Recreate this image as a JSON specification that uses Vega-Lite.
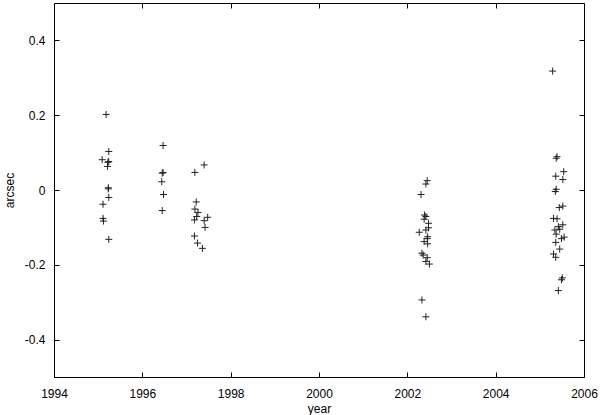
{
  "$schema": "https://vega.github.io/schema/vega-lite/v6.json",
  "width": 530,
  "height": 374,
  "autosize": {"type": "none"},
  "padding": {"left": 54, "top": 3, "right": 16, "bottom": 38},
  "background": "white",
  "config": {
    "view": {"stroke": "#000", "strokeWidth": 1},
    "font": "Liberation Sans",
    "axis": {"grid": false, "domain": false, "labelFont": "Liberation Sans", "titleFont": "Liberation Sans", "labelFontSize": 12, "titleFontSize": 12, "titleFontWeight": "normal", "labelColor": "#000", "titleColor": "#000", "tickColor": "#000"}
  },
  "data": {"values": [
    {"year": 1995.18, "arcsec": 0.202},
    {"year": 1995.24, "arcsec": 0.103},
    {"year": 1995.09, "arcsec": 0.081},
    {"year": 1995.24, "arcsec": 0.076},
    {"year": 1995.22, "arcsec": 0.074},
    {"year": 1995.21, "arcsec": 0.063},
    {"year": 1995.23, "arcsec": 0.006},
    {"year": 1995.23, "arcsec": 0.003},
    {"year": 1995.24, "arcsec": -0.020},
    {"year": 1995.11, "arcsec": -0.038},
    {"year": 1995.11, "arcsec": -0.076},
    {"year": 1995.12, "arcsec": -0.083},
    {"year": 1995.24, "arcsec": -0.132},
    {"year": 1996.47, "arcsec": 0.119},
    {"year": 1996.47, "arcsec": 0.047},
    {"year": 1996.45, "arcsec": 0.045},
    {"year": 1996.44, "arcsec": 0.022},
    {"year": 1996.48, "arcsec": -0.012},
    {"year": 1996.45, "arcsec": -0.055},
    {"year": 1997.40, "arcsec": 0.067},
    {"year": 1997.19, "arcsec": 0.047},
    {"year": 1997.22, "arcsec": -0.032},
    {"year": 1997.19, "arcsec": -0.051},
    {"year": 1997.26, "arcsec": -0.060},
    {"year": 1997.23, "arcsec": -0.071},
    {"year": 1997.48, "arcsec": -0.073},
    {"year": 1997.18, "arcsec": -0.080},
    {"year": 1997.40, "arcsec": -0.082},
    {"year": 1997.42, "arcsec": -0.100},
    {"year": 1997.18, "arcsec": -0.123},
    {"year": 1997.25, "arcsec": -0.142},
    {"year": 1997.36, "arcsec": -0.156},
    {"year": 2002.45, "arcsec": 0.025},
    {"year": 2002.42, "arcsec": 0.016},
    {"year": 2002.31, "arcsec": -0.012},
    {"year": 2002.39, "arcsec": -0.067},
    {"year": 2002.42, "arcsec": -0.071},
    {"year": 2002.38, "arcsec": -0.078},
    {"year": 2002.48, "arcsec": -0.089},
    {"year": 2002.48, "arcsec": -0.101},
    {"year": 2002.42, "arcsec": -0.107},
    {"year": 2002.27, "arcsec": -0.113},
    {"year": 2002.46, "arcsec": -0.125},
    {"year": 2002.45, "arcsec": -0.130},
    {"year": 2002.38, "arcsec": -0.138},
    {"year": 2002.46, "arcsec": -0.144},
    {"year": 2002.33, "arcsec": -0.169},
    {"year": 2002.36, "arcsec": -0.174},
    {"year": 2002.45, "arcsec": -0.181},
    {"year": 2002.42, "arcsec": -0.191},
    {"year": 2002.50, "arcsec": -0.198},
    {"year": 2002.33, "arcsec": -0.294},
    {"year": 2002.42, "arcsec": -0.339},
    {"year": 2005.29, "arcsec": 0.318},
    {"year": 2005.37, "arcsec": 0.085},
    {"year": 2005.39, "arcsec": 0.089},
    {"year": 2005.54, "arcsec": 0.049},
    {"year": 2005.36, "arcsec": 0.037},
    {"year": 2005.52, "arcsec": 0.028},
    {"year": 2005.37, "arcsec": 0.002},
    {"year": 2005.35, "arcsec": -0.004},
    {"year": 2005.44, "arcsec": -0.047},
    {"year": 2005.52, "arcsec": -0.043},
    {"year": 2005.31, "arcsec": -0.076},
    {"year": 2005.39, "arcsec": -0.077},
    {"year": 2005.42, "arcsec": -0.098},
    {"year": 2005.52, "arcsec": -0.093},
    {"year": 2005.45, "arcsec": -0.105},
    {"year": 2005.34, "arcsec": -0.107},
    {"year": 2005.37, "arcsec": -0.118},
    {"year": 2005.55, "arcsec": -0.126},
    {"year": 2005.49, "arcsec": -0.130},
    {"year": 2005.36, "arcsec": -0.140},
    {"year": 2005.45, "arcsec": -0.158},
    {"year": 2005.31, "arcsec": -0.171},
    {"year": 2005.36, "arcsec": -0.180},
    {"year": 2005.51, "arcsec": -0.235},
    {"year": 2005.49, "arcsec": -0.240},
    {"year": 2005.42, "arcsec": -0.269}
  ]},
  "layer": [
    {
      "mark": {"type": "point", "shape": "M-1,0H1M0,-1V1", "size": 49, "filled": false, "stroke": "#222", "strokeWidth": 1, "opacity": 1},
      "encoding": {
        "x": {"field": "year", "type": "quantitative", "scale": {"domain": [1994, 2006], "nice": false, "zero": false},
          "axis": {"orient": "bottom", "values": [1994, 1996, 1998, 2000, 2002, 2004, 2006], "format": "d", "title": "year", "tickSize": -5, "labelPadding": 16, "titlePadding": 4, "labelFlush": false}},
        "y": {"field": "arcsec", "type": "quantitative", "scale": {"domain": [-0.5, 0.5], "nice": false, "zero": false},
          "axis": {"orient": "left", "values": [-0.4, -0.2, 0, 0.2, 0.4], "labelExpr": "datum.value == 0 ? '0' : '' + datum.value", "title": "arcsec", "tickSize": -5, "labelPadding": 14, "titlePadding": 8}}
      }
    },
    {
      "mark": {"type": "point", "opacity": 0},
      "encoding": {
        "x": {"field": "year", "type": "quantitative", "scale": {"domain": [1994, 2006], "nice": false, "zero": false},
          "axis": {"orient": "top", "values": [1994, 1996, 1998, 2000, 2002, 2004, 2006], "labels": false, "title": null, "tickSize": -5}},
        "y": {"field": "arcsec", "type": "quantitative", "scale": {"domain": [-0.5, 0.5], "nice": false, "zero": false},
          "axis": {"orient": "right", "values": [-0.4, -0.2, 0, 0.2, 0.4], "labels": false, "title": null, "tickSize": -5}}
      }
    }
  ],
  "resolve": {"axis": {"x": "independent", "y": "independent"}}
}
